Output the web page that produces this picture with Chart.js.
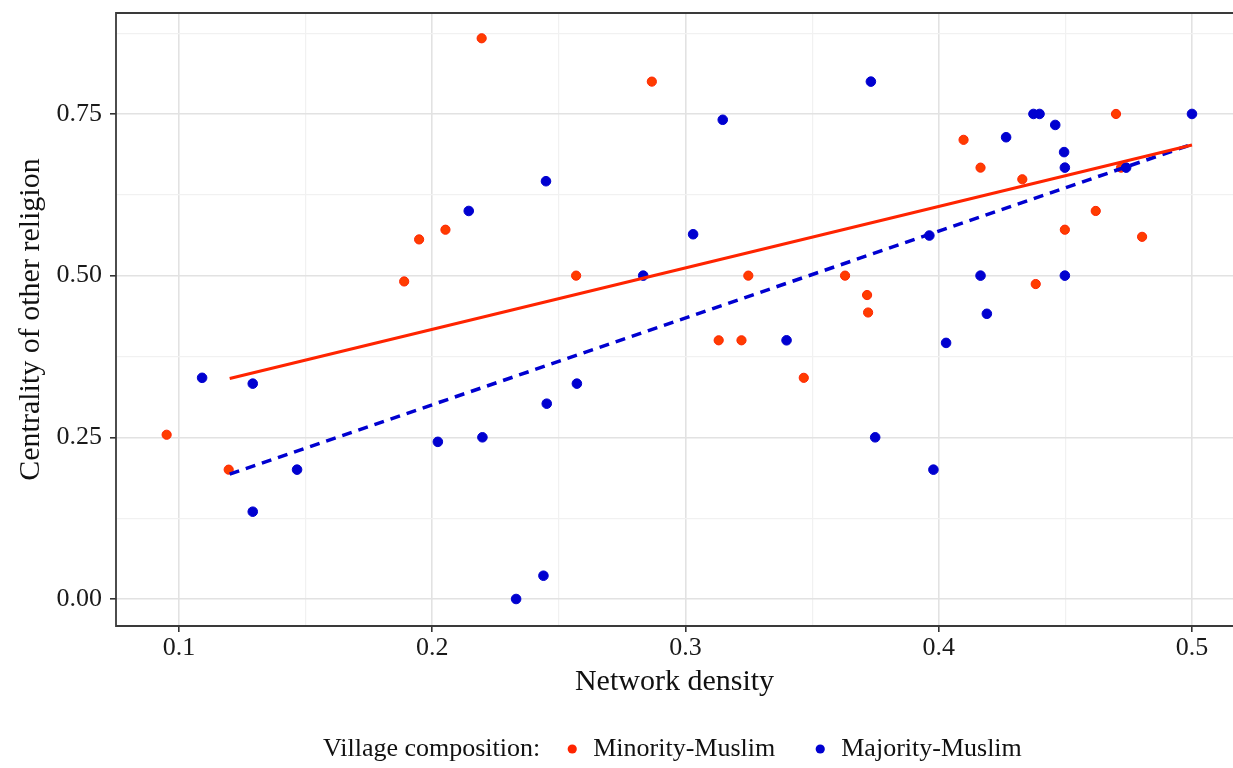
<!DOCTYPE html>
<html>
<head>
<meta charset="utf-8">
<script src="https://cdn.jsdelivr.net/npm/chart.js@4"></script>
<style>
  html, body { margin: 0; padding: 0; background: #fff; }
  canvas { display: block; }
</style>
</head>
<body>
<canvas id="chart" width="1233" height="768"></canvas>
<script>
// Minority-Muslim villages (red)
const minorityX = [0.0951, 0.1196, 0.1889, 0.1948, 0.2052, 0.2195, 0.2568, 0.2867, 0.3131, 0.3221, 0.3248, 0.3467,
                   0.3630, 0.3717, 0.3721, 0.4098, 0.4165, 0.4330, 0.4383, 0.4498, 0.4620, 0.4700, 0.4720, 0.4803];
const minorityY = [0.254, 0.200, 0.491, 0.556, 0.571, 0.867, 0.500, 0.800, 0.400, 0.400, 0.500, 0.342,
                   0.500, 0.470, 0.443, 0.710, 0.667, 0.649, 0.487, 0.571, 0.600, 0.750, 0.667, 0.560];

// Majority-Muslim villages (blue)
const majorityX = [0.1091, 0.1291, 0.1291, 0.1466, 0.2022, 0.2144, 0.2198, 0.2331, 0.2439, 0.2449, 0.2452, 0.2571,
                   0.2833, 0.3030, 0.3147, 0.3399, 0.3732, 0.3749, 0.3963, 0.3979, 0.4029, 0.4165, 0.4190, 0.4266,
                   0.4374, 0.4398, 0.4460, 0.4495, 0.4498, 0.4498, 0.4740, 0.5000];
const majorityY = [0.342, 0.333, 0.135, 0.200, 0.243, 0.600, 0.250, 0.000, 0.036, 0.646, 0.302, 0.333,
                   0.500, 0.564, 0.741, 0.400, 0.800, 0.250, 0.562, 0.200, 0.396, 0.500, 0.441, 0.714,
                   0.750, 0.750, 0.733, 0.691, 0.667, 0.500, 0.667, 0.750];

// fitted lines (end points)
const fitX = [0.12, 0.50];
const minorityFit = [0.341, 0.702];
const majorityFit = [0.193, 0.703];

const xMajorTicks = [0.1, 0.2, 0.3, 0.4, 0.5];
const xMinorTicks = [0.15, 0.25, 0.35, 0.45];
const yMajorTicks = [0, 0.25, 0.5, 0.75];
const yMinorTicks = [0.125, 0.375, 0.625, 0.875];

const seriesLabels = ['Minority-Muslim', 'Majority-Muslim'];
const legendTitle = 'Village composition:';
const xTitle = 'Network density';
const yTitle = 'Centrality of other religion';

const RED = '#ff2400';
const BLUE = '#0000d0';
const FONT = '"Liberation Serif", "DejaVu Serif", serif';

function toPoints(xs, ys) {
    return xs.map((x, i) => ({ x: x, y: ys[i] }));
}

function isMajor(list, v) {
    return list.some(m => Math.abs(m - v) < 1e-9);
}

function gridStyle(majorList) {
    return {
        color: ctx => isMajor(majorList, ctx.tick.value) ? '#e2e2e2' : '#f1f1f1',
        lineWidth: ctx => isMajor(majorList, ctx.tick.value) ? 1.6 : 1.2,
        tickColor: ctx => isMajor(majorList, ctx.tick.value) ? '#333' : 'rgba(0,0,0,0)',
        tickLength: 6,
        tickWidth: 1.6,
        drawTicks: true
    };
}

// keep the plot panel where the reference has it, no room for edge labels
function noEdgePadding(scale) {
    scale.paddingTop = 0;
    scale.paddingBottom = 0;
    scale.paddingLeft = 0;
    scale.paddingRight = 0;
}

// panel border; the right side is cut off by the picture edge
const panelBorder = {
    id: 'panelBorder',
    afterDatasetsDraw(chart) {
        const { ctx, chartArea } = chart;
        const { left, top, right, bottom } = chartArea;
        ctx.save();
        ctx.strokeStyle = '#3a3a3a';
        ctx.lineWidth = 1.8;
        ctx.beginPath();
        ctx.moveTo(right + 2, top);
        ctx.lineTo(left, top);
        ctx.lineTo(left, bottom);
        ctx.lineTo(right + 2, bottom);
        ctx.stroke();
        ctx.restore();
    }
};

// legend drawn in one row with its title on the left
const bottomLegend = {
    id: 'bottomLegend',
    afterDraw(chart) {
        const ctx = chart.ctx;
        ctx.save();
        ctx.font = '26px ' + FONT;
        ctx.textBaseline = 'middle';
        ctx.fillStyle = '#111';
        const y = 749;
        const colors = [RED, BLUE];
        let x = 323;
        ctx.fillText(legendTitle, x, y);
        x += ctx.measureText(legendTitle).width + 32;
        seriesLabels.forEach((label, i) => {
            ctx.beginPath();
            ctx.arc(x, y, 4.6, 0, Math.PI * 2);
            ctx.fillStyle = colors[i];
            ctx.fill();
            x += 21;
            ctx.fillStyle = '#111';
            ctx.fillText(label, x, y);
            x += ctx.measureText(label).width + 45;
        });
        ctx.restore();
    }
};

const ctx = document.getElementById('chart').getContext('2d');
new Chart(ctx, {
    type: 'scatter',
    data: {
        datasets: [
            {
                label: seriesLabels[0] + ' fit',
                type: 'line',
                data: toPoints(fitX, minorityFit),
                borderColor: RED,
                borderWidth: 3,
                pointRadius: 0,
                fill: false,
                order: 0
            },
            {
                label: seriesLabels[1] + ' fit',
                type: 'line',
                data: toPoints(fitX, majorityFit),
                borderColor: BLUE,
                borderWidth: 3.5,
                borderDash: [10, 7],
                pointRadius: 0,
                fill: false,
                order: 0
            },
            {
                label: seriesLabels[0],
                data: toPoints(minorityX, minorityY),
                backgroundColor: '#ff3c00',
                borderColor: RED,
                borderWidth: 1,
                pointRadius: 4.6,
                order: 2
            },
            {
                label: seriesLabels[1],
                data: toPoints(majorityX, majorityY),
                backgroundColor: BLUE,
                borderColor: BLUE,
                borderWidth: 1,
                pointRadius: 4.8,
                order: 1
            }
        ]
    },
    options: {
        responsive: false,
        animation: false,
        layout: { autoPadding: false, padding: { left: 0, right: 0, top: 13, bottom: 66 } },
        plugins: {
            legend: { display: false },
            tooltip: { enabled: false }
        },
        scales: {
            x: {
                type: 'linear',
                min: 0.0751,
                max: 0.5162,
                afterBuildTicks: scale => {
                    scale.ticks = xMajorTicks.concat(xMinorTicks).sort((a, b) => a - b).map(v => ({ value: v }));
                },
                afterFit: scale => {
                    scale.height = 76;
                    noEdgePadding(scale);
                },
                grid: gridStyle(xMajorTicks),
                border: { display: false },
                ticks: {
                    autoSkip: false,
                    maxRotation: 0,
                    padding: 1,
                    color: '#1a1a1a',
                    font: { family: FONT, size: 26 },
                    callback: v => isMajor(xMajorTicks, v) ? v.toFixed(1) : ''
                },
                title: {
                    display: true,
                    text: xTitle,
                    color: '#111',
                    font: { family: FONT, size: 30 },
                    padding: { top: 0, bottom: 2 }
                }
            },
            y: {
                type: 'linear',
                min: -0.04175,
                max: 0.9061,
                afterBuildTicks: scale => {
                    scale.ticks = yMajorTicks.concat(yMinorTicks).sort((a, b) => a - b).map(v => ({ value: v }));
                },
                afterFit: scale => {
                    scale.width = 116;
                    noEdgePadding(scale);
                },
                grid: gridStyle(yMajorTicks),
                border: { display: false },
                ticks: {
                    autoSkip: false,
                    padding: 8,
                    color: '#1a1a1a',
                    font: { family: FONT, size: 26 },
                    callback: v => isMajor(yMajorTicks, v) ? v.toFixed(2) : ''
                },
                title: {
                    display: true,
                    text: yTitle,
                    color: '#111',
                    font: { family: FONT, size: 30 },
                    padding: { top: 13, bottom: 0 }
                }
            }
        }
    },
    plugins: [panelBorder, bottomLegend]
});
</script>
</body>
</html>
